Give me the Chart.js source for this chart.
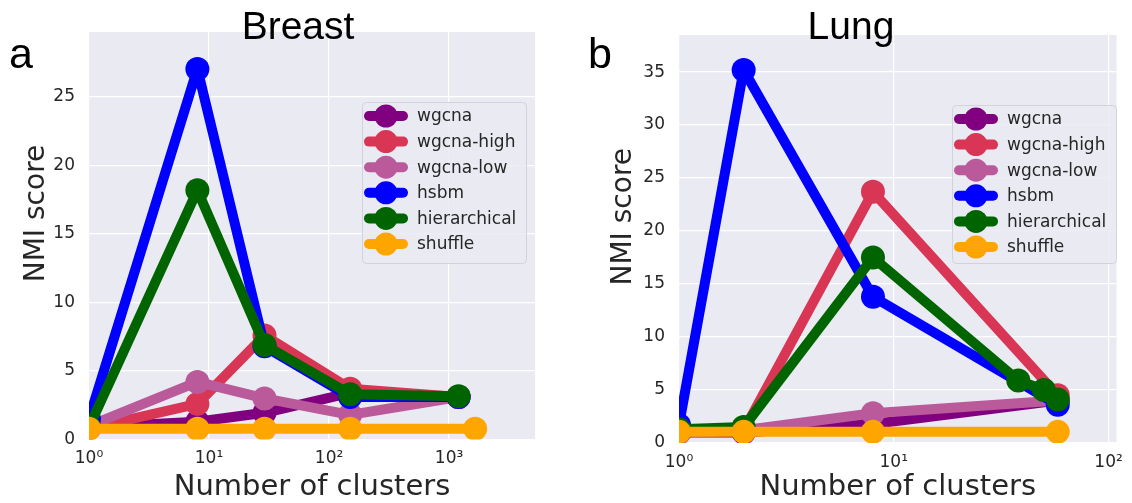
<!DOCTYPE html>
<html>
<head>
<meta charset="utf-8">
<script src="https://cdn.jsdelivr.net/npm/chart.js@4.4.1/dist/chart.umd.min.js"></script>
<style>
  html, body { margin: 0; padding: 0; background: #fff; }
  #page { position: relative; width: 1132px; height: 503px; overflow: hidden; }
  .panel { position: absolute; top: 0; height: 503px; }
  .txt { position: absolute; font-family: "Liberation Sans", Arial, sans-serif; color: #000; line-height: 1; white-space: nowrap; }
</style>
</head>
<body>
<div id="page">
  <div class="panel" style="left:0;width:560px"><canvas id="breast"></canvas></div>
  <div class="panel" style="left:560px;width:572px"><canvas id="lung"></canvas></div>
  <div class="txt" style="left:198px;width:200px;text-align:center;top:6px;font-size:39px">Breast</div>
  <div class="txt" style="left:751px;width:200px;text-align:center;top:6px;font-size:39px">Lung</div>
  <div class="txt" style="left:9px;top:32px;font-size:43px">a</div>
  <div class="txt" style="left:588px;top:32px;font-size:43px">b</div>
</div>
<script>
// series shared by both panels
const seriesNames = ['wgcna', 'wgcna-high', 'wgcna-low', 'hsbm', 'hierarchical', 'shuffle'];
const seriesColors = ['#800080', '#D93655', '#BB5A9B', '#0000FF', '#006400', '#FFA500'];

// panel a: Breast
const breastClusters = [1, 8, 29, 150, 1200];
const breastShuffleClusters = [1, 8, 29, 150, 1650];
const breastWgcna = [0.9, 1.3, 1.95, 3.4, 3.1];
const breastWgcnaHigh = [0.8, 2.6, 7.6, 3.7, 3.1];
const breastWgcnaLow = [1.0, 4.2, 3.0, 1.8, 3.1];
const breastHsbm = [1.5, 27.05, 6.8, 3.1, 3.1];
const breastHierarchical = [0.9, 18.2, 6.9, 3.3, 3.15];
const breastShuffle = [0.78, 0.78, 0.78, 0.78, 0.78];

// panel b: Lung
const lungClusters = [1, 2, 8, 58];
const lungHierClusters = [1, 2, 8, 38, 50, 58];
const lungWgcna = [1.0, 1.0, 1.8, 4.0];
const lungWgcnaHigh = [1.0, 1.2, 23.7, 4.5];
const lungWgcnaLow = [1.0, 1.2, 2.8, 4.0];
const lungHsbm = [1.7, 35.2, 13.8, 3.6];
const lungHierarchical = [1.3, 1.5, 17.5, 5.9, 5.0, 4.1];
const lungShuffle = [1.05, 1.05, 1.05, 1.05];

// ticks
const breastXTicks = [1, 10, 100, 1000];
const lungXTicks = [1, 10, 100];
const decadeLabels = ['10\u2070', '10\u00b9', '10\u00b2', '10\u00b3'];
const breastYTicks = [0, 5, 10, 15, 20, 25];
const lungYTicks = [0, 5, 10, 15, 20, 25, 30, 35];

Chart.defaults.font.family = '"DejaVu Sans", sans-serif';
Chart.defaults.color = '#262626';

const plotBg = {
    id: 'plotBg',
    beforeDraw(chart) {
        const { ctx, chartArea: a } = chart;
        ctx.save();
        ctx.fillStyle = '#EAEAF2';
        ctx.fillRect(a.left, a.top, a.right - a.left, a.bottom - a.top);
        ctx.restore();
    },
};

// legend box drawn inside the axes, like the matplotlib one
const boxLegend = {
    id: 'boxLegend',
    afterDatasetsDraw(chart, args, opts) {
        const ctx = chart.ctx;
        const { x, y, w, h } = opts;
        ctx.save();
        ctx.beginPath();
        ctx.roundRect(x + 0.5, y + 0.5, w, h, 4);
        ctx.fillStyle = 'rgba(234,234,242,0.85)';
        ctx.fill();
        ctx.strokeStyle = '#D2D2DA';
        ctx.lineWidth = 1;
        ctx.stroke();
        chart.data.datasets.forEach((ds, i) => {
            const cy = y + 14 + i * 25.6;
            ctx.strokeStyle = ds.borderColor;
            ctx.lineWidth = 10;
            ctx.lineCap = 'round';
            ctx.beginPath();
            ctx.moveTo(x + 7, cy);
            ctx.lineTo(x + 41, cy);
            ctx.stroke();
            ctx.fillStyle = ds.borderColor;
            ctx.beginPath();
            ctx.arc(x + 24, cy, 11.5, 0, Math.PI * 2);
            ctx.fill();
            ctx.fillStyle = '#262626';
            ctx.font = '17px "DejaVu Sans"';
            ctx.textBaseline = 'middle';
            ctx.fillText(ds.label, x + 55, cy + 1);
        });
        ctx.restore();
    },
};

function toPoints(xs, ys) {
    return ys.map((v, i) => ({ x: xs[i], y: v }));
}

function makeDatasets(list) {
    return list.map((pts, i) => ({
        label: seriesNames[i],
        data: pts,
        borderColor: seriesColors[i],
        backgroundColor: seriesColors[i],
        pointBackgroundColor: seriesColors[i],
        pointBorderWidth: 0,
        pointRadius: 12,
        pointHoverRadius: 12,
        borderWidth: 10,
        borderJoinStyle: 'round',
        tension: 0,
        clip: 0,
        order: seriesNames.length - i, // later series on top
    }));
}

function makeChart(id, cfg) {
    const ctx = document.getElementById(id).getContext('2d');
    return new Chart(ctx, {
        type: 'line',
        data: { datasets: makeDatasets(cfg.series) },
        plugins: [plotBg, boxLegend],
        options: {
            responsive: true,
            maintainAspectRatio: false,
            animation: false,
            events: [],
            layout: { padding: { left: 0, top: cfg.top, right: cfg.right, bottom: 0 } },
            plugins: {
                legend: { display: false },
                tooltip: { enabled: false },
                boxLegend: cfg.legend,
            },
            scales: {
                x: {
                    type: 'logarithmic',
                    min: 1,
                    max: cfg.xMax,
                    border: { display: false },
                    grid: { color: '#FFFFFF', lineWidth: 1.2, drawTicks: false },
                    afterBuildTicks: (s) => { s.ticks = cfg.xTicks.map(v => ({ value: v })); },
                    afterFit: (s) => { s.height = cfg.xAxisH; },
                    ticks: {
                        autoSkip: false,
                        maxRotation: 0,
                        padding: 9,
                        font: { size: 17 },
                        callback: (v, i) => decadeLabels[i],
                    },
                    title: {
                        display: true,
                        text: 'Number of clusters',
                        font: { size: 29, lineHeight: 1 },
                        padding: { top: 0, bottom: 1 },
                    },
                },
                y: {
                    type: 'linear',
                    min: 0,
                    max: cfg.yMax,
                    border: { display: false },
                    grid: { color: '#FFFFFF', lineWidth: 1.2, drawTicks: false },
                    afterBuildTicks: (s) => { s.ticks = cfg.yTicks.map(v => ({ value: v })); },
                    afterFit: (s) => { s.width = cfg.yAxisW; },
                    ticks: { padding: 14, font: { size: 17 } },
                    title: {
                        display: true,
                        text: '     NMI score',
                        font: { size: 28, lineHeight: 1 },
                        padding: { top: cfg.yTitlePad, bottom: 0 },
                    },
                },
            },
        },
    });
}

makeChart('breast', {
    series: [
        toPoints(breastClusters, breastWgcna),
        toPoints(breastClusters, breastWgcnaHigh),
        toPoints(breastClusters, breastWgcnaLow),
        toPoints(breastClusters, breastHsbm),
        toPoints(breastClusters, breastHierarchical),
        toPoints(breastShuffleClusters, breastShuffle),
    ],
    xMax: 5200, yMax: 29.75,
    xTicks: breastXTicks, yTicks: breastYTicks,
    top: 32, right: 25, xAxisH: 63.5, yAxisW: 89, yTitlePad: 23,
    legend: { x: 362, y: 102, w: 164, h: 161 },
});

makeChart('lung', {
    series: [
        toPoints(lungClusters, lungWgcna),
        toPoints(lungClusters, lungWgcnaHigh),
        toPoints(lungClusters, lungWgcnaLow),
        toPoints(lungClusters, lungHsbm),
        toPoints(lungHierClusters, lungHierarchical),
        toPoints(lungClusters, lungShuffle),
    ],
    xMax: 109, yMax: 38.5,
    xTicks: lungXTicks, yTicks: lungYTicks,
    top: 35, right: 7, xAxisH: 60, yAxisW: 119, yTitlePad: 50,
    legend: { x: 392, y: 105, w: 164, h: 158 },
});
</script>
</body>
</html>
